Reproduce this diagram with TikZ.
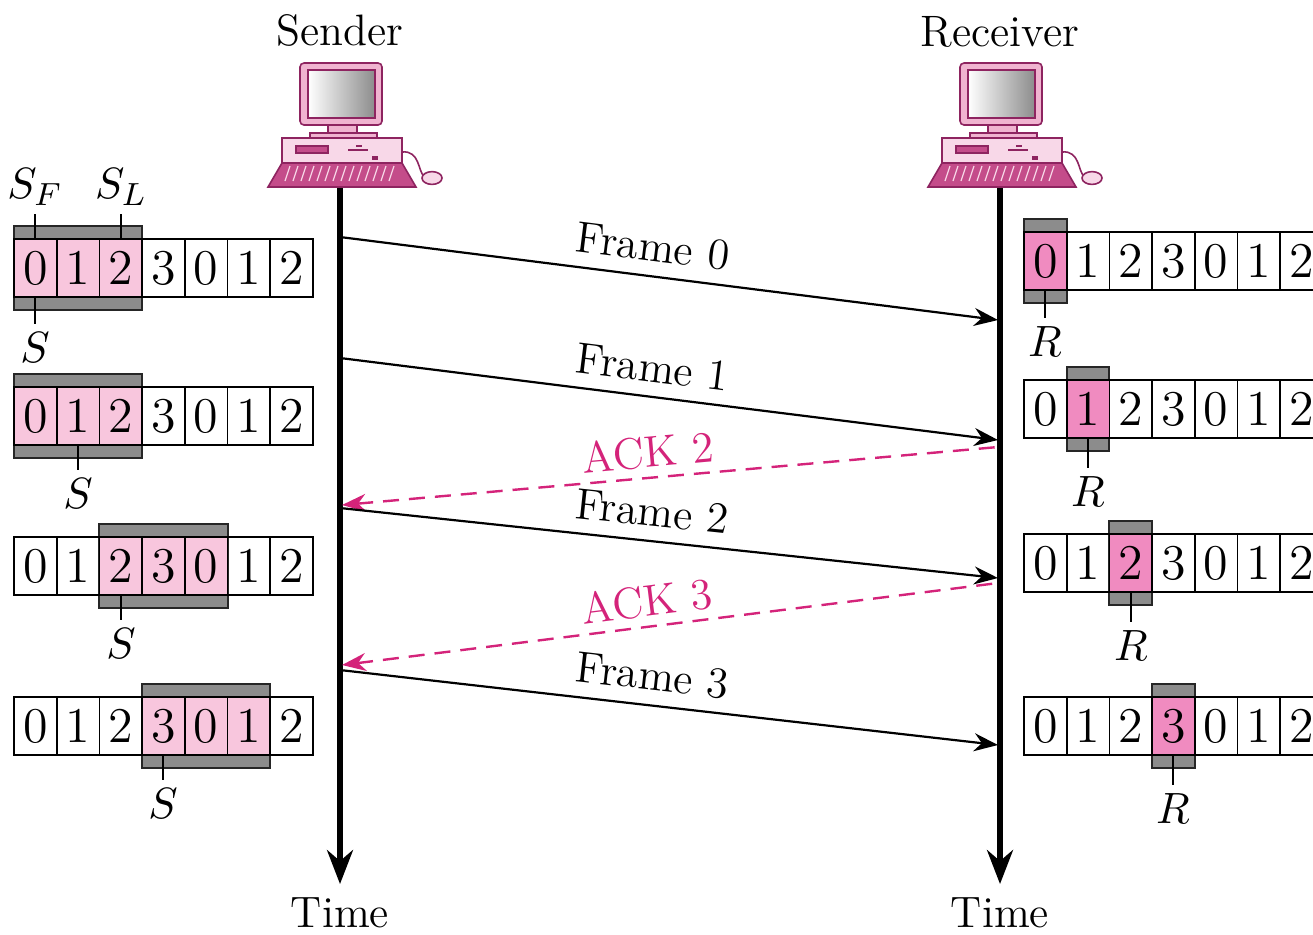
\documentclass[tikz,border=0pt]{standalone}
\usepackage{xcolor}
\usepackage{tikz}
\usetikzlibrary{arrows.meta}
\definecolor{winpink}{HTML}{F8C6DD}
\definecolor{rcvpink}{HTML}{F08BC0}
\definecolor{wingray}{HTML}{8C8C8C}
\definecolor{ackmag}{HTML}{D4237A}
\definecolor{pcpink}{HTML}{F0B4D0}
\definecolor{pclight}{HTML}{F8D8E8}
\definecolor{pcdark}{HTML}{8E2460}
\definecolor{pcmid}{HTML}{C44C8A}
\newcommand{\SlideRow}[6]{% name, left x, centre y, first cell, window size, fill
    \draw[line width=0.5pt,fill=white] (#2,#3-29) rectangle ++(7*42.7,58);
    \draw[line width=0.5pt,draw=black!85,fill=wingray] (#2+#4*42.7,#3-42) rectangle ++(#5*42.7,84);
    \fill[#6] (#2+#4*42.7,#3-29) rectangle ++(#5*42.7,58);
    \foreach \d [count=\i from 0] in {0,1,2,3,0,1,2}{
        \draw[line width=0.4pt] (#2+\i*42.7,#3-29) rectangle ++(42.7,58);
        \node[cellnum] (#1-\i) at (#2+\i*42.7+21.35,#3) {\d};
    }%
}
\newcommand{\PCicon}[1]{%
    \begin{scope}[shift={(#1,0)},line width=0.4pt]
        \draw[pcdark,fill=pcpink,rounded corners=1pt] (-40,63) rectangle (42,125);
        \shade[left color=white,right color=black!45,draw=pcdark] (-32,70) rectangle (35,118);
        \draw[pcdark,fill=pcpink] (-12,125) rectangle (17,133);
        \draw[pcdark,fill=pcpink] (-30,133) rectangle (37,138);
        \draw[pcdark,fill=pclight] (-58,138) rectangle (62,163);
        \draw[pcdark,fill=pcmid] (-44,146) rectangle (-12,153);
        \draw[pcdark,line width=0.6pt] (8,150) -- (28,150) (16,146) -- (22,146);
        \fill[pcdark] (32,156) rectangle (38,160);
        \draw[pcdark,fill=pcmid] (-58,163) -- (62,163) -- (76,187) -- (-72,187) -- cycle;
        \foreach \k in {0,...,13} \draw[pclight,line width=0.3pt] (-50+\k*8,166) -- (-55+\k*8,181);
        \draw[pcdark] (62,152) .. controls (80,150) and (78,172) .. (84,176);
        \draw[pcdark,fill=pclight] (92,178) ellipse (2.5pt and 1.6pt);
    \end{scope}
}

\begin{document}
\begin{tikzpicture}[x=0.25pt,y=-0.25pt,
        lbl/.style={font=\fontsize{11}{13}\selectfont},
        cellnum/.style={font=\fontsize{12.5}{14}\selectfont,inner sep=0pt},
        timeline/.style={line width=1.3pt,-{Stealth[length=8.5pt,width=6.5pt]}},
        frame/.style={line width=0.55pt,-{Stealth[length=6pt,width=4.5pt]}},
        ack/.style={draw=ackmag,line width=0.6pt,dash pattern=on 4pt off 2.5pt,{Stealth[length=6pt,width=4.5pt]}-},
        tick/.style={line width=0.5pt}]
    \useasboundingbox (0,0) rectangle (1313,934);
    % stations
    \node[lbl] (sname) at (340,30) {Sender};
    \node[lbl] (rname) at (1000,32) {Receiver};
    \PCicon{340}
    \PCicon{1000}
    \coordinate (stop) at (340,188);
    \coordinate (sbot) at (340,884);
    \coordinate (rtop) at (1000,188);
    \coordinate (rbot) at (1000,884);
    \draw[timeline] (stop) -- (sbot);
    \draw[timeline] (rtop) -- (rbot);
    \node[lbl] (stime) at (340,913) {Time};
    \node[lbl] (rtime) at (1000,913) {Time};
    % sender windows
    \SlideRow{sw0}{14}{268}{0}{3}{winpink}
    \SlideRow{sw1}{14}{416}{0}{3}{winpink}
    \SlideRow{sw2}{14}{566}{2}{3}{winpink}
    \SlideRow{sw3}{14}{726}{3}{3}{winpink}
    \draw[tick] (35,239) -- (35,214) node[above,lbl,inner sep=2pt] (sf) {$S_F$};
    \draw[tick] (121,239) -- (121,214) node[above,lbl,inner sep=2pt] (sl) {$S_L$};
    \draw[tick] (35,297) -- (35,324) node[below,lbl,inner sep=2pt] (sp0) {$S$};
    \draw[tick] (78,445) -- (78,470) node[below,lbl,inner sep=2pt] (sp1) {$S$};
    \draw[tick] (121,595) -- (121,620) node[below,lbl,inner sep=2pt] (sp2) {$S$};
    \draw[tick] (163,755) -- (163,780) node[below,lbl,inner sep=2pt] (sp3) {$S$};
    % receiver windows
    \SlideRow{rw0}{1024}{261}{0}{1}{rcvpink}
    \SlideRow{rw1}{1024}{409}{1}{1}{rcvpink}
    \SlideRow{rw2}{1024}{563}{2}{1}{rcvpink}
    \SlideRow{rw3}{1024}{726}{3}{1}{rcvpink}
    \draw[tick] (1045,290) -- (1045,318) node[below,lbl,inner sep=2pt] (rp0) {$R$};
    \draw[tick] (1088,438) -- (1088,468) node[below,lbl,inner sep=2pt] (rp1) {$R$};
    \draw[tick] (1131,592) -- (1131,622) node[below,lbl,inner sep=2pt] (rp2) {$R$};
    \draw[tick] (1173,755) -- (1173,785) node[below,lbl,inner sep=2pt] (rp3) {$R$};
    % frames and acks
    \coordinate (s0) at (340,237);  \coordinate (r0) at (998,320);
    \coordinate (s1) at (340,358);  \coordinate (r1) at (998,440);
    \coordinate (sa2) at (342,505); \coordinate (ra2) at (998,447);
    \coordinate (s2) at (340,508);  \coordinate (r2) at (998,578);
    \coordinate (sa3) at (342,665); \coordinate (ra3) at (998,583);
    \coordinate (s3) at (340,670);  \coordinate (r3) at (998,745);
    \draw[frame] (s0) -- node[lbl,sloped,above,pos=0.47] (lf0) {Frame 0} (r0);
    \draw[frame] (s1) -- node[lbl,sloped,above,pos=0.47] (lf1) {Frame 1} (r1);
    \draw[ack] (sa2) -- node[lbl,sloped,above,pos=0.47,text=ackmag,inner sep=2pt] (la2) {ACK 2} (ra2);
    \draw[frame] (s2) -- node[lbl,sloped,above,pos=0.47] (lf2) {Frame 2} (r2);
    \draw[ack] (sa3) -- node[lbl,sloped,above,pos=0.47,text=ackmag,inner sep=2pt] (la3) {ACK 3} (ra3);
    \draw[frame] (s3) -- node[lbl,sloped,above,pos=0.47] (lf3) {Frame 3} (r3);
\end{tikzpicture}
\end{document}
